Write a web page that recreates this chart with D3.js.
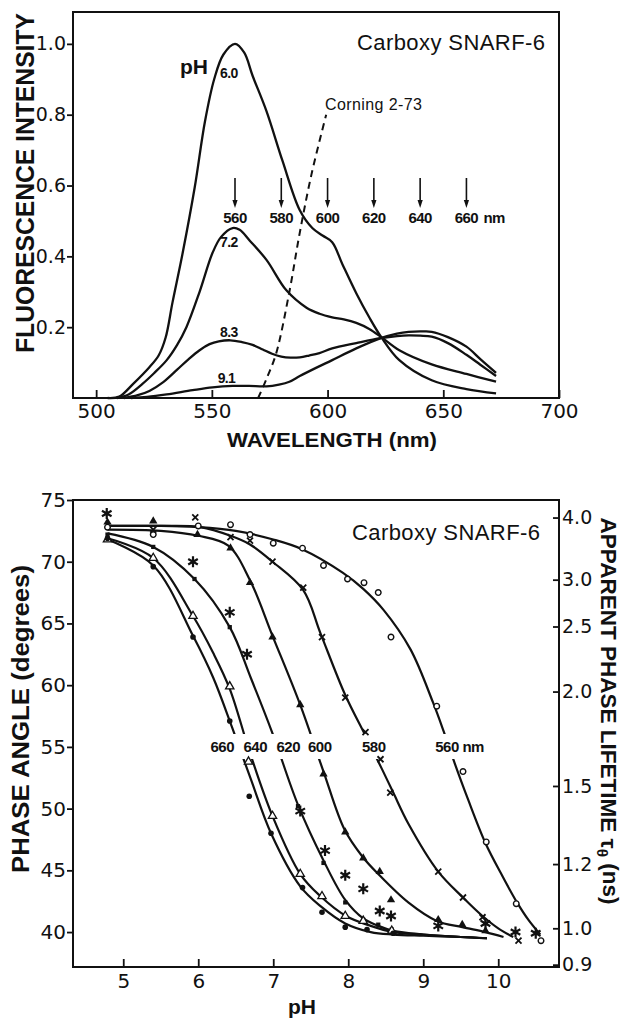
<!DOCTYPE html>
<html>
<head>
<meta charset="utf-8">
<script src="https://cdn.jsdelivr.net/npm/d3@7"></script>
<style>
  html, body { margin: 0; padding: 0; background: #fff; }
  svg { display: block; }
</style>
</head>
<body>
<svg id="chart" width="623" height="1022"></svg>
<script>
// ---------- Emission spectra of carboxy SNARF-6 (wavelength nm, relative intensity) ----------
const wavelengthTicks = [500, 550, 600, 650, 700];
const intensityTicks = [0.2, 0.4, 0.6, 0.8, 1.0];

const spectrumPH60 = [[505,0],[510,0.004],[516,0.04],[523,0.087],[527,0.12],[530,0.17],[533,0.27],
  [537.4,0.41],[542.6,0.595],[547,0.78],[551,0.9],[555,0.97],[560,1.0],[564,0.975],[567.6,0.91],
  [573.6,0.81],[580.5,0.67],[588,0.53],[593.4,0.48],[598,0.458],[602,0.44],[606.4,0.378],
  [612.4,0.296],[618,0.228],[623.2,0.172],[631,0.107],[645,0.05],[660,0.025],[672.8,0.013]];
const spectrumPH72 = [[509,0],[514,0.01],[520,0.04],[525,0.07],[530.5,0.107],[535,0.15],[539,0.2],
  [544.7,0.30],[550.3,0.41],[554,0.455],[559,0.48],[562,0.475],[566.3,0.445],[573.6,0.39],
  [582.2,0.304],[590.9,0.255],[596.5,0.238],[602,0.228],[607,0.222],[612.4,0.212],[618,0.195],
  [623.2,0.172],[631,0.135],[645,0.095],[660,0.068],[672.8,0.046]];
const spectrumPH83 = [[512,0],[518,0.008],[523,0.02],[529,0.045],[535,0.08],[540,0.11],[544.7,0.135],
  [549,0.152],[553,0.16],[558,0.163],[563,0.158],[567.6,0.15],[572,0.137],[576,0.125],[580,0.117],
  [584,0.114],[588,0.115],[592,0.12],[596.5,0.127],[602,0.14],[612.4,0.155],[623,0.169],[630,0.175],
  [635,0.177],[640,0.176],[645,0.173],[652,0.155],[660,0.122],[666,0.094],[672.8,0.062]];
const spectrumPH91 = [[515,0],[522,0.003],[530.5,0.01],[541.7,0.022],[550.3,0.03],[559,0.034],
  [566,0.034],[573.6,0.033],[579,0.038],[583.5,0.046],[588,0.062],[595,0.085],[602,0.107],
  [612.4,0.14],[623,0.169],[630,0.182],[635,0.187],[641,0.188],[645,0.187],[652,0.172],
  [660,0.145],[666,0.11],[672.8,0.071]];
const corningFilter = [[570,0],[574,0.06],[577.8,0.126],[583.5,0.30],[587.8,0.46],[593,0.63],[599.4,0.80]];

const spectra = [
  { pH: "6.0", values: spectrumPH60, label: [553.5, 0.905] },
  { pH: "7.2", values: spectrumPH72, label: [553.5, 0.425] },
  { pH: "8.3", values: spectrumPH83, label: [553.5, 0.171] },
  { pH: "9.1", values: spectrumPH91, label: [552.5, 0.043] }
];
const emissionWavelengths = [560, 580, 600, 620, 640, 660];

// ---------- Phase angle versus pH at each emission wavelength ----------
const pHTicks = [5, 6, 7, 8, 9, 10];
const phaseTicks = [40, 45, 50, 55, 60, 65, 70, 75];
const lifetimeTicks = [4.0, 3.0, 2.5, 2.0, 1.5, 1.2, 1.0, 0.9];
const modulationMHz = 135;

const curve560 = [[4.79,72.9],[5.5,72.9],[6.0,72.8],[6.5,72.5],[7.0,71.8],[7.39,71.0],[7.93,69.1],
  [8.2,67.8],[8.47,66.1],[8.83,62.9],[9.13,58.6],[9.27,56.3],[9.4,54.0],[9.6,50.7],[9.83,47.2],
  [10.05,44.6],[10.25,42.4],[10.4,41.0],[10.56,39.8]];
const curve580 = [[4.79,72.9],[5.5,72.9],[6.03,72.8],[6.43,72.1],[6.69,71.4],[6.99,70.0],[7.4,67.7],
  [7.63,64.2],[7.96,59.2],[8.23,55.9],[8.45,53.2],[8.6,51.3],[8.8,48.8],[9.2,44.9],[9.53,42.8],
  [9.79,41.3],[10.0,40.3],[10.2,39.6]];
const curve600 = [[4.79,72.6],[5.5,72.5],[6.0,72.1],[6.4,71.3],[6.69,68.5],[6.99,64.0],[7.36,58.4],
  [7.67,53.0],[7.95,48.3],[8.19,46.1],[8.4,44.7],[8.8,42.4],[9.18,40.9],[9.52,40.4],[9.83,40.0],[10.07,39.6]];
const curve620 = [[4.79,72.3],[5.4,71.2],[5.95,68.6],[6.42,64.7],[6.7,60.6],[6.99,56.1],[7.33,50.3],
  [7.67,45.8],[7.96,42.6],[8.2,41.1],[8.4,40.5],[8.6,40.1],[9.0,39.8],[9.5,39.6],[9.85,39.5]];
const curve640 = [[4.79,71.9],[5.4,70.3],[5.93,65.6],[6.2,62.6],[6.42,59.7],[6.69,54.5],[6.99,49.4],
  [7.36,44.7],[7.63,42.9],[7.97,41.3],[8.3,40.5],[8.6,40.0],[9.0,39.8],[9.5,39.6],[9.85,39.5]];
const curve660 = [[4.79,71.8],[5.4,69.7],[5.93,64.0],[6.2,60.6],[6.45,56.6],[6.7,52.4],[6.97,48.0],
  [7.36,43.7],[7.63,42.1],[7.96,40.7],[8.3,40.0],[8.6,39.8],[9.0,39.7],[9.5,39.6],[9.85,39.5]];

const points560 = [[4.79,72.8],[5.4,72.2],[6.0,72.9],[6.43,73.0],[6.69,72.2],[7.0,71.5],[7.39,71.1],
  [7.67,69.7],[7.99,68.6],[8.21,68.3],[8.4,67.5],[8.57,63.9],[9.18,58.3],[9.53,53.0],[9.84,47.3],
  [10.24,42.3],[10.57,39.3]];
const points580 = [[5.4,72.6],[5.96,73.6],[6.43,72.0],[6.69,71.7],[6.99,70.0],[7.4,67.9],[7.65,63.9],
  [7.96,59.0],[8.23,56.2],[8.43,54.0],[8.56,51.3],[9.2,44.9],[9.53,42.8],[9.79,41.2],[10.27,39.3]];
const points600 = [[4.79,73.2],[5.4,73.3],[5.99,72.2],[6.43,71.1],[6.69,68.3],[6.99,63.9],[7.36,58.4],
  [7.67,52.8],[7.96,48.1],[8.2,46.0],[8.42,44.9],[8.57,42.6],[9.2,41.0],[9.52,40.6],[9.83,40.1]];
const points620 = [[4.79,72.2],[5.4,71.2],[5.95,68.6],[6.42,64.7],[7.33,50.2],[7.67,45.6],[7.96,42.4],
  [8.2,41.0],[8.4,40.6],[8.58,40.2]];
const points640 = [[4.79,71.8],[5.4,70.3],[5.93,65.6],[6.42,59.9],[6.67,53.8],[6.99,49.4],[7.36,44.7],
  [7.65,42.9],[7.96,41.3],[8.2,40.9],[8.58,40.1]];
const points660 = [[4.79,71.9],[5.4,69.6],[5.93,63.9],[6.42,57.1],[6.68,51.0],[6.97,48.0],[7.39,43.6],
  [7.65,41.6],[7.96,40.4],[8.25,40.2],[8.6,39.9]];
const pointsStar = [[4.78,73.9],[5.93,70.0],[6.42,65.9],[6.65,62.5],[7.36,49.8],[7.69,46.6],[7.96,44.6],
  [8.2,43.5],[8.42,41.7],[8.57,41.3],[9.2,40.5],[9.83,40.7],[10.23,40.0],[10.5,39.9]];

const phaseCurves = [curve560, curve580, curve600, curve620, curve640, curve660];
const curveLabels = [
  { text: "660", pH: 6.32 }, { text: "640", pH: 6.76 }, { text: "620", pH: 7.2 },
  { text: "600", pH: 7.62 }, { text: "580", pH: 8.34 }, { text: "560 nm", pH: 9.16, anchor: "start" }
];

// ---------- drawing ----------
const svg = d3.select("#chart");
const INK = "#111";
const numFont = "'DejaVu Sans', sans-serif";
const titleFont = "'Liberation Sans', Arial, Helvetica, sans-serif";

function styleAxis(g, size) {
  g.select(".domain").remove();
  g.selectAll(".tick line").attr("stroke", INK).attr("stroke-width", 1.8);
  g.selectAll(".tick text").attr("fill", INK).attr("font-family", numFont).attr("font-size", size);
}

// ===== upper panel: spectra =====
const xW = d3.scaleLinear().domain([490, 700]).range([73, 559]);
const yI = d3.scaleLinear().domain([0, 1.09]).range([398, 12]);
const specPanel = svg.append("g");

specPanel.append("g").attr("transform", "translate(73,0)")
  .call(d3.axisLeft(yI).tickValues(intensityTicks).tickFormat(d3.format(".1f"))
    .tickSizeInner(6).tickSizeOuter(0).tickPadding(1))
  .call(g => styleAxis(g, 19));
specPanel.append("g").attr("transform", "translate(0,398)")
  .call(d3.axisBottom(xW).tickValues(wavelengthTicks).tickFormat(d3.format("d"))
    .tickSizeInner(-8).tickSizeOuter(0).tickPadding(6))
  .call(g => styleAxis(g, 20));

specPanel.append("rect").attr("x", 73).attr("y", 12).attr("width", 486).attr("height", 386)
  .attr("fill", "none").attr("stroke", INK).attr("stroke-width", 2);

const specLine = d3.line().x(d => xW(d[0])).y(d => yI(d[1])).curve(d3.curveCatmullRom.alpha(0.5));
specPanel.selectAll("path.spec").data(spectra).join("path").attr("class", "spec")
  .attr("d", d => specLine(d.values)).attr("fill", "none").attr("stroke", INK).attr("stroke-width", 2.3);
specPanel.append("path").attr("d", specLine(corningFilter)).attr("fill", "none").attr("stroke", INK)
  .attr("stroke-width", 2).attr("stroke-dasharray", "7,5");

specPanel.selectAll("text.ph").data(spectra).join("text").attr("class", "ph")
  .attr("x", d => xW(d.label[0])).attr("y", d => yI(d.label[1]))
  .attr("font-family", titleFont).attr("font-weight", "bold").attr("font-size", 14)
  .attr("letter-spacing", -0.6).attr("fill", INK).text(d => d.pH);
specPanel.append("text").attr("x", 180).attr("y", 74).attr("font-family", titleFont)
  .attr("font-size", 21).attr("font-weight", "bold").attr("fill", INK).text("pH");
specPanel.append("text").attr("x", 325).attr("y", 110).attr("font-family", titleFont)
  .attr("font-size", 16).attr("textLength", 97).attr("fill", INK).text("Corning 2-73");
specPanel.append("text").attr("x", 357).attr("y", 50).attr("font-family", titleFont)
  .attr("font-size", 22).attr("textLength", 188).attr("fill", INK).text("Carboxy SNARF-6");

// arrows marking the emission wavelengths used for phase measurements
const arrows = specPanel.selectAll("g.arrow").data(emissionWavelengths).join("g").attr("class", "arrow")
  .attr("transform", d => `translate(${xW(d)},0)`);
arrows.append("line").attr("y1", 178).attr("y2", 202).attr("stroke", INK).attr("stroke-width", 1.6);
arrows.append("path").attr("d", "M-2.6,200L2.6,200L0,208Z").attr("fill", INK);
arrows.append("text").attr("y", 223).attr("text-anchor", "middle").attr("font-family", titleFont)
  .attr("font-weight", "bold").attr("font-size", 15).attr("letter-spacing", -0.5).attr("fill", INK)
  .text(d => d);
specPanel.append("text").attr("x", xW(660) + 17).attr("y", 223).attr("font-family", titleFont)
  .attr("font-weight", "bold").attr("font-size", 15).attr("letter-spacing", -0.5).attr("fill", INK).text("nm");

specPanel.append("text").attr("x", 332).attr("y", 447).attr("text-anchor", "middle")
  .attr("font-family", titleFont).attr("font-weight", "bold").attr("font-size", 21)
  .attr("textLength", 210).attr("lengthAdjust", "spacingAndGlyphs").attr("fill", INK).text("WAVELENGTH (nm)");
specPanel.append("text").attr("transform", "translate(34,183) rotate(-90)").attr("text-anchor", "middle")
  .attr("font-family", titleFont).attr("font-weight", "bold").attr("font-size", 25)
  .attr("textLength", 340).attr("lengthAdjust", "spacingAndGlyphs").attr("fill", INK)
  .text("FLUORESCENCE INTENSITY");

// ===== lower panel: phase angle vs pH =====
const xP = d3.scaleLinear().domain([4.33, 10.81]).range([73, 559]);
const yA = d3.scaleLinear().domain([37.17, 75]).range([967, 500]);
const omega = 2 * Math.PI * modulationMHz / 1000; // rad per ns
// apparent phase lifetime  tau = tan(phi) / omega  -> place lifetimes on the phase-angle scale
function yTau(t) { return yA(Math.atan(t * omega) * 180 / Math.PI); }
yTau.domain = () => [0.9, 4.0];
yTau.range = () => yA.range();
yTau.copy = () => yTau;

const phasePanel = svg.append("g");
phasePanel.append("g").attr("transform", "translate(73,0)")
  .call(d3.axisLeft(yA).tickValues(phaseTicks).tickSizeInner(6).tickSizeOuter(0).tickPadding(1))
  .call(g => styleAxis(g, 20));
phasePanel.append("g").attr("transform", "translate(0,967)")
  .call(d3.axisBottom(xP).tickValues(pHTicks).tickFormat(d3.format("d"))
    .tickSizeInner(-8).tickSizeOuter(0).tickPadding(7))
  .call(g => styleAxis(g, 20));
phasePanel.append("g").attr("transform", "translate(559,0)")
  .call(d3.axisRight(yTau).tickValues(lifetimeTicks).tickFormat(d3.format(".1f"))
    .tickSizeInner(-6).tickSizeOuter(0).tickPadding(3))
  .call(g => styleAxis(g, 19));

phasePanel.append("path").attr("d", "M73,500H559V967H73Z").attr("fill", "none")
  .attr("stroke", INK).attr("stroke-width", 2);

const phaseLine = d3.line().x(d => xP(d[0])).y(d => yA(d[1])).curve(d3.curveCatmullRom.alpha(0.5));
phasePanel.selectAll("path.phase").data(phaseCurves).join("path").attr("class", "phase")
  .attr("d", phaseLine).attr("fill", "none").attr("stroke", INK).attr("stroke-width", 2.2);

// wavelength labels sit in a blank band that interrupts the curves
const maskBand = phasePanel.append("rect").attr("fill", "#fff");
const labels = phasePanel.selectAll("text.wl").data(curveLabels).join("text").attr("class", "wl")
  .attr("x", d => xP(d.pH)).attr("y", 752).attr("text-anchor", d => d.anchor || "middle")
  .attr("font-family", titleFont).attr("font-weight", "bold").attr("font-size", 15)
  .attr("letter-spacing", -0.5).attr("fill", INK).text(d => d.text);
let bx0 = Infinity, bx1 = -Infinity;
labels.each(function () { const b = this.getBBox(); bx0 = Math.min(bx0, b.x); bx1 = Math.max(bx1, b.x + b.width); });
maskBand.attr("x", bx0 - 6).attr("y", 734).attr("width", bx1 - bx0 + 12).attr("height", 25);

// data markers
const px = d => xP(d[0]), py = d => yA(d[1]);
function place(sel) { return sel.attr("transform", d => `translate(${px(d)},${py(d)})`); }
const tri = d3.symbol(d3.symbolTriangle).size(30)();
const sq = d3.symbol(d3.symbolSquare).size(18)();

place(phasePanel.selectAll("circle.o560").data(points560).join("circle").attr("class", "o560"))
  .attr("r", 2.8).attr("fill", "#fff").attr("stroke", INK).attr("stroke-width", 1.4);
place(phasePanel.selectAll("path.x580").data(points580).join("path").attr("class", "x580"))
  .attr("d", "M-3,-3L3,3M-3,3L3,-3").attr("stroke", INK).attr("stroke-width", 1.8);
place(phasePanel.selectAll("path.t600").data(points600).join("path").attr("class", "t600"))
  .attr("d", tri).attr("fill", INK);
place(phasePanel.selectAll("path.s620").data(points620).join("path").attr("class", "s620"))
  .attr("d", sq).attr("fill", INK);
place(phasePanel.selectAll("path.t640").data(points640).join("path").attr("class", "t640"))
  .attr("d", tri).attr("fill", "#fff").attr("stroke", INK).attr("stroke-width", 1.3);
place(phasePanel.selectAll("circle.f660").data(points660).join("circle").attr("class", "f660"))
  .attr("r", 2.8).attr("fill", INK);
place(phasePanel.selectAll("path.star").data(pointsStar).join("path").attr("class", "star"))
  .attr("d", "M0,-5.5V5.5M-4.8,-2.75L4.8,2.75M-4.8,2.75L4.8,-2.75")
  .attr("stroke", INK).attr("stroke-width", 2.2);

phasePanel.append("text").attr("x", 352).attr("y", 540).attr("font-family", titleFont)
  .attr("font-size", 22).attr("textLength", 188).attr("fill", INK).text("Carboxy SNARF-6");
phasePanel.append("text").attr("x", 302).attr("y", 1014).attr("text-anchor", "middle")
  .attr("font-family", titleFont).attr("font-weight", "bold").attr("font-size", 21)
  .attr("fill", INK).text("pH");
phasePanel.append("text").attr("transform", "translate(29,719) rotate(-90)").attr("text-anchor", "middle")
  .attr("font-family", titleFont).attr("font-weight", "bold").attr("font-size", 23)
  .attr("textLength", 308).attr("lengthAdjust", "spacingAndGlyphs").attr("fill", INK)
  .text("PHASE ANGLE (degrees)");
const rt = phasePanel.append("text").attr("transform", "translate(601,711) rotate(90)").attr("text-anchor", "middle")
  .attr("font-family", titleFont).attr("font-weight", "bold").attr("font-size", 22)
  .attr("textLength", 387).attr("lengthAdjust", "spacingAndGlyphs").attr("fill", INK);
rt.append("tspan").text("APPARENT PHASE LIFETIME τ");
rt.append("tspan").attr("dy", "0.3em").attr("font-size", 15).text("θ");
rt.append("tspan").attr("dy", "-0.3em").text(" (ns)");
</script>
</body>
</html>
